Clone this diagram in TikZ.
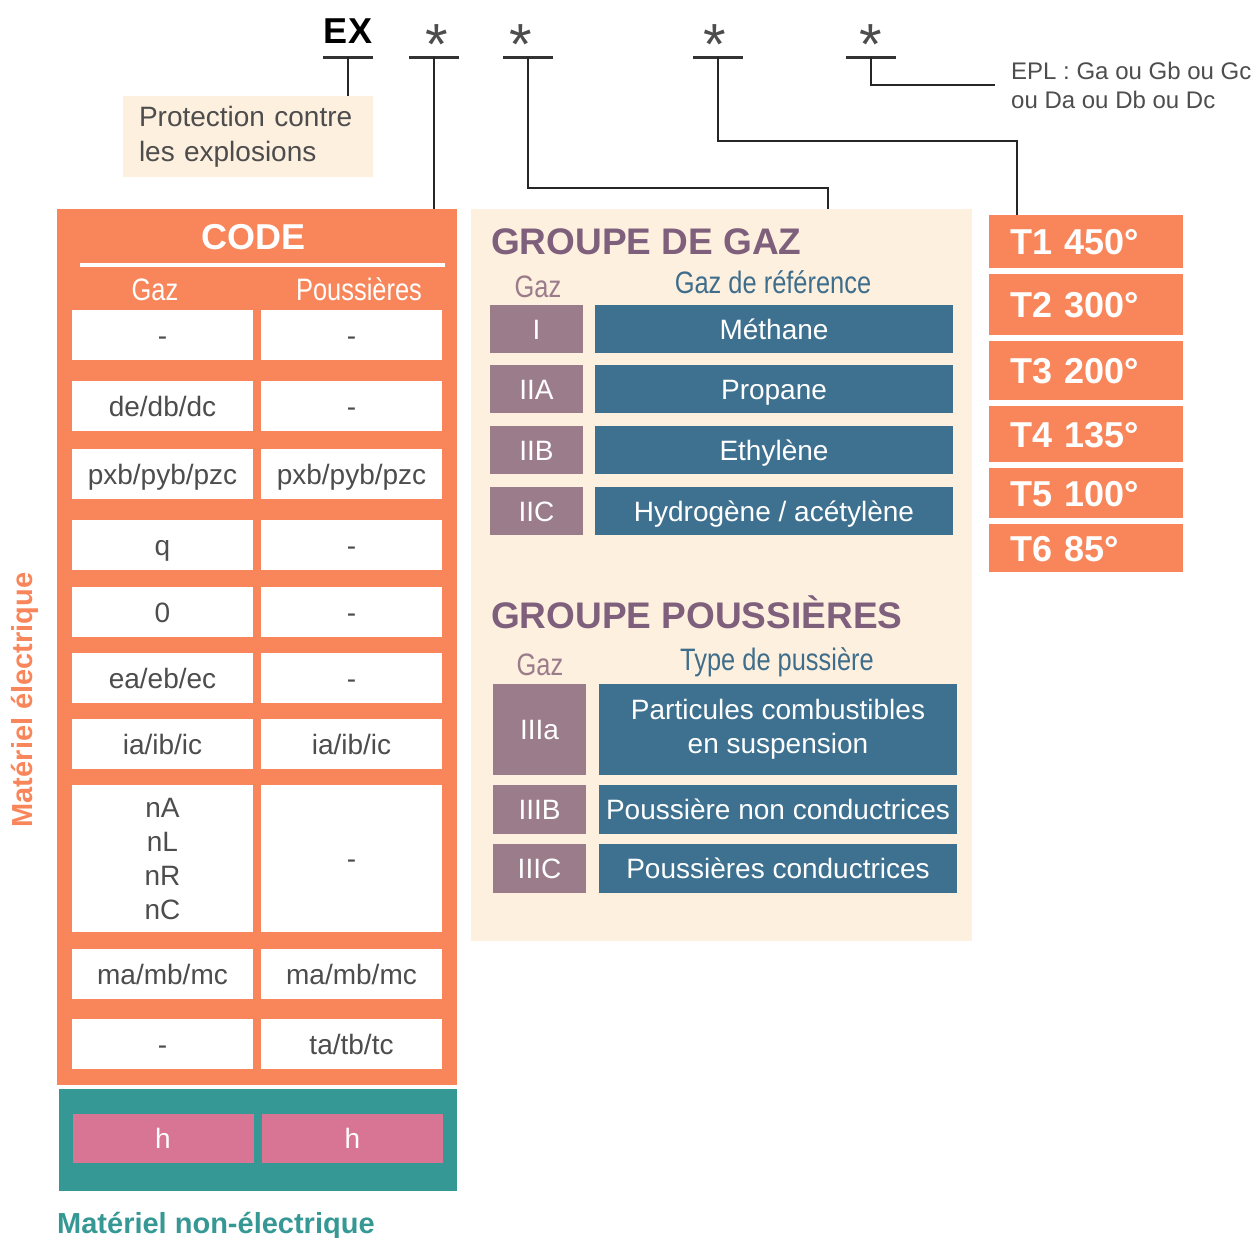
\documentclass[tikz,border=0pt]{standalone}
\usepackage{fontspec}
\setmainfont{Liberation Sans}
\newfontfamily\narrowfont[FakeStretch=0.82]{Liberation Sans}
\usetikzlibrary{positioning,calc}

\definecolor{exorange}{HTML}{F8865A}
\definecolor{excream}{HTML}{FEF0DF}
\definecolor{exteal}{HTML}{369894}
\definecolor{expink}{HTML}{D87494}
\definecolor{expurple}{HTML}{7E5F7C}
\definecolor{exmauve}{HTML}{9B7C8B}
\definecolor{exblue}{HTML}{3E7190}
\definecolor{exbluetext}{HTML}{3E6E8C}
\definecolor{exgray}{HTML}{4D4D4D}

\begin{document}
\begin{tikzpicture}[x=1pt,y=-1pt,
	panel/.style={inner sep=0pt},
	oneline/.style={text height=20pt,text depth=0pt},
	multiline/.style={},
	cell/.style={fill=white,text=exgray,font=\fontsize{28}{34}\selectfont,
		minimum width=181pt,align=center,inner sep=0pt},
	hcell/.style={fill=expink,text=white,font=\fontsize{28}{34}\selectfont,
		minimum width=181pt,minimum height=49pt,inner sep=0pt,oneline},
	gcode/.style={fill=exmauve,text=white,font=\fontsize{28}{34}\selectfont,
		minimum width=93pt,inner sep=0pt,oneline},
	gname/.style={fill=exblue,text=white,font=\fontsize{28}{34}\selectfont,
		minimum width=358pt,align=center,inner sep=0pt},
	tbox/.style={fill=exorange,text=white,font=\bfseries\fontsize{36}{40}\selectfont,
		text width=152pt,inner xsep=21pt,inner ysep=0pt,align=left,
		text height=26pt,text depth=0pt},
	head/.style={font=\narrowfont\fontsize{31}{36}\selectfont,anchor=base,inner sep=0pt},
	title/.style={text=expurple,font=\bfseries\fontsize{37}{40}\selectfont,
		anchor=base west,inner sep=0pt},
	wildcard/.style={text=exgray,font=\fontsize{58}{58}\selectfont,anchor=base,inner sep=0pt},
	bar/.style={draw=black!80,line width=3pt},
	link/.style={draw=black!85,line width=2.4pt}]

	\useasboundingbox (0,0) rectangle (1255,1237);

	% code heading
	\node[font=\bfseries\fontsize{36}{40}\selectfont,anchor=base,inner sep=0pt] (ex) at (348,43) {EX};
	\foreach \x [count=\i] in {437,521,715,871}
		\node[wildcard] (star-\i) at (\x,64) {*};
	\foreach \n/\x in {ex/348,1/434,2/528,3/718,4/871} {
		\coordinate (bar-\n) at (\x,57);
		\draw[bar] ([xshift=-25pt]bar-\n) -- ([xshift=25pt]bar-\n);
	}

	\node[fill=excream,
		text=exgray,
		font=\fontsize{28}{35}\selectfont,
		text width=218pt,
		inner xsep=16pt,
		minimum height=81pt,
		align=left] (prot) at (248,136.5) {Protection contre\\les explosions};

	\node[text=exgray,
		font=\fontsize{24}{29}\selectfont,
		anchor=west,
		align=left,
		inner sep=0pt] (epl) at (1011,85) {EPL : Ga ou Gb ou Gc\\ou Da ou Db ou Dc};

	% CODE column
	\node[panel,fill=exorange,minimum width=400pt,minimum height=876pt] (code) at (257,647) {};
	\node[text=white,font=\bfseries\fontsize{36}{40}\selectfont,inner sep=0pt] (code-title) at (254,237) {CODE};
	\draw[white,line width=4pt] (80,265) -- (445,265);
	\node[head,text=white] (code-gaz) at (155,300) {Gaz};
	\node[head,text=white] (code-pous) at (359,300) {Poussières};

	\foreach \y/\h/\s/\g/\p [count=\i] in {335/50/oneline/-/-, 406/50/oneline/{de/db/dc}/-,
		474/50/oneline/{pxb/pyb/pzc}/{pxb/pyb/pzc}, 545/50/oneline/q/-, 612/50/oneline/0/-,
		678/50/oneline/{ea/eb/ec}/-, 744/50/oneline/{ia/ib/ic}/{ia/ib/ic},
		858.5/147/multiline/{nA\\nL\\nR\\nC}/-, 974/50/oneline/{ma/mb/mc}/{ma/mb/mc},
		1044/50/oneline/-/{ta/tb/tc}} {
		\node[cell,\s,minimum height=\h pt] (gaz-\i) at (162.5,\y) {\g};
		\node[cell,oneline,minimum height=\h pt] (pous-\i) at (351.5,\y) {\p};
	}

	\node[panel,fill=exteal,minimum width=398pt,minimum height=102pt] (nonelec) at (258,1140) {};
	\node[hcell] (h-gaz) at (163,1138.5) {h};
	\node[hcell] (h-pous) at (352.5,1138.5) {h};

	\node[text=exteal,font=\bfseries\fontsize{29}{34}\selectfont,anchor=base west,inner sep=0pt]
		(nonelec-label) at (57,1233) {Matériel non-électrique};
	\node[text=exorange,font=\bfseries\fontsize{29}{34}\selectfont,rotate=90,inner sep=0pt]
		(elec-label) at (25,700) {Matériel électrique};

	% groups
	\node[panel,fill=excream,minimum width=501pt,minimum height=732pt] (gas) at (721.5,575) {};
	\node[title] (gas-title) at (491,254) {GROUPE DE GAZ};
	\node[head,text=exmauve] (gas-gaz) at (538,297) {Gaz};
	\node[head,text=exbluetext] (gas-ref) at (773,293) {Gaz de référence};
	\foreach \y/\c/\n [count=\i] in {329/I/Méthane, 389/IIA/Propane,
		450/IIB/Ethylène, 511/IIC/{Hydrogène / acétylène}} {
		\node[gcode,minimum height=48pt] (gc-\i) at (536.5,\y) {\c};
		\node[gname,oneline,minimum height=48pt] (gn-\i) at (774,\y) {\n};
	}

	\node[title] (dust-title) at (491,628) {GROUPE POUSSIÈRES};
	\node[head,text=exmauve] (dust-gaz) at (540,675) {Gaz};
	\node[head,text=exbluetext] (dust-type) at (777,670) {Type de pussière};
	\foreach \y/\h/\s/\c/\n [count=\i] in {729.5/91/multiline/IIIa/{Particules combustibles\\en suspension},
		809.5/49/oneline/IIIB/Poussière non conductrices, 868.5/49/oneline/IIIC/Poussières conductrices} {
		\node[gcode,minimum height=\h pt] (dc-\i) at (539.5,\y) {\c};
		\node[gname,\s,minimum height=\h pt] (dn-\i) at (778,\y) {\n};
	}

	% temperature classes
	\foreach \y/\h/\t [count=\i] in {241.5/53/{T1 450°}, 304.5/61/{T2 300°}, 370.5/59/{T3 200°},
		434/56/{T4 135°}, 493/50/{T5 100°}, 548/48/{T6 85°}}
		\node[tbox,minimum height=\h pt] (t-\i) at (1086,\y) {\t};

	% connectors
	\draw[link] (bar-ex) -- (bar-ex |- prot.north);
	\draw[link] (bar-1) -- (bar-1 |- code.north);
	\draw[link] (bar-2) -- ++(0,131) -| ([xshift=106.5pt]gas.north);
	\draw[link] (bar-3) -- ++(0,84) -| ([xshift=28pt]t-1.north west);
	\draw[link] (bar-4) |- ([xshift=-16pt]epl.west);

\end{tikzpicture}
\end{document}
